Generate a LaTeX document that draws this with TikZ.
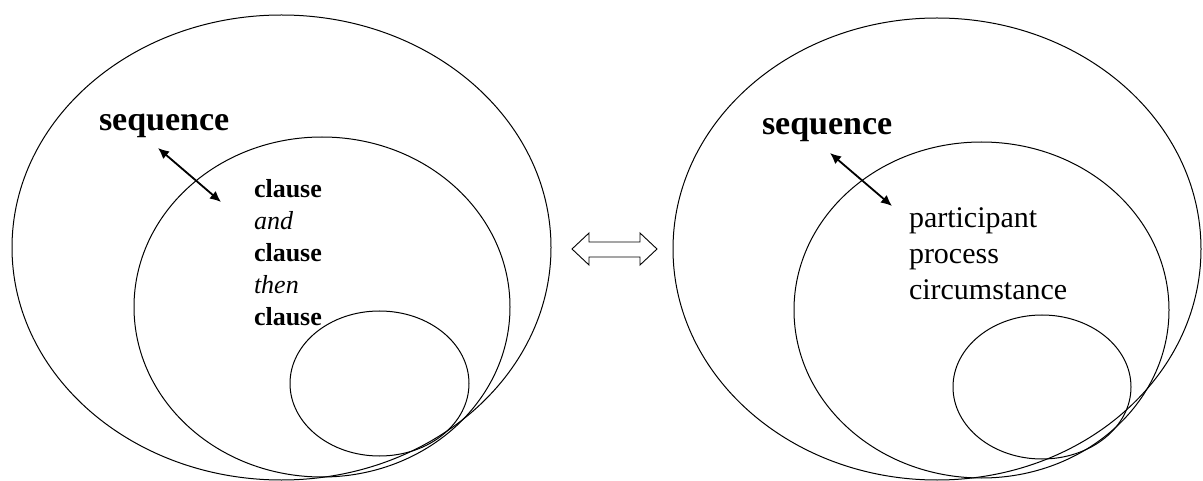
\documentclass[tikz,border=0pt]{standalone}
\usepackage{fontspec}
\setmainfont{Liberation Serif}
\usetikzlibrary{arrows.meta,shapes.geometric}
\tikzset{
  ring/.style={draw, ellipse, line width=1pt, inner sep=0pt, outer sep=0pt},
  link/.style={line width=1.8pt, {Latex[length=11pt,width=10pt]}-{Latex[length=11pt,width=10pt]}},
  txt/.style={anchor=base west, inner sep=0pt, outer sep=0pt},
  head/.style={txt, font=\fontsize{34}{40}\selectfont\bfseries},
  unitb/.style={txt, font=\fontsize{26}{32}\selectfont\bfseries},
  uniti/.style={txt, font=\fontsize{26}{32}\selectfont\itshape},
  part/.style={txt, font=\fontsize{30}{36}\selectfont},
  swap/.style={draw, line width=0.9pt, fill=white, line join=miter}
}
\begin{document}
\begin{tikzpicture}[x=1pt,y=-1pt]
\useasboundingbox (0,0) rectangle (1203,481);
\clip (0,0) rectangle (1203,481);

% left: nested rings
\node[ring, minimum width=539pt, minimum height=465pt] (outerL) at (281.5,247.5) {};
\node[ring, minimum width=376pt, minimum height=340pt] (midL) at (322,307) {};
\node[ring, minimum width=179pt, minimum height=145pt] (smallL) at (379.5,383.5) {};

\node[head] (seqL) at (99,131) {sequence};
\node[unitb] (c1) at (254,198) {clause};
\node[uniti] (a1) at (254,230) {and};
\node[unitb] (c2) at (254,262) {clause};
\node[uniti] (t1) at (254,294) {then};
\node[unitb] (c3) at (254,326) {clause};

\coordinate (pL1) at (158,148);
\coordinate (pL2) at (221,202);
\draw[link] (pL1) -- (pL2);

% middle: two-way block arrow
\draw[swap] (572,249) -- (589,233) -- (589,242) -- (640,242) -- (640,233)
  -- (657,249) -- (640,265) -- (640,257) -- (589,257) -- (589,265) -- cycle;

% right: nested rings
\node[ring, minimum width=528pt, minimum height=462pt] (outerR) at (937,249) {};
\node[ring, minimum width=375pt, minimum height=336pt] (midR) at (981.5,310) {};
\node[ring, minimum width=178pt, minimum height=144pt] (smallR) at (1042,387) {};

\node[head] (seqR) at (762,135) {sequence};
\node[part] (p1) at (909,228) {participant};
\node[part] (p2) at (909,264) {process};
\node[part] (p3) at (909,300) {circumstance};

\coordinate (pR1) at (830,153);
\coordinate (pR2) at (892,206);
\draw[link] (pR1) -- (pR2);
\end{tikzpicture}
\end{document}
